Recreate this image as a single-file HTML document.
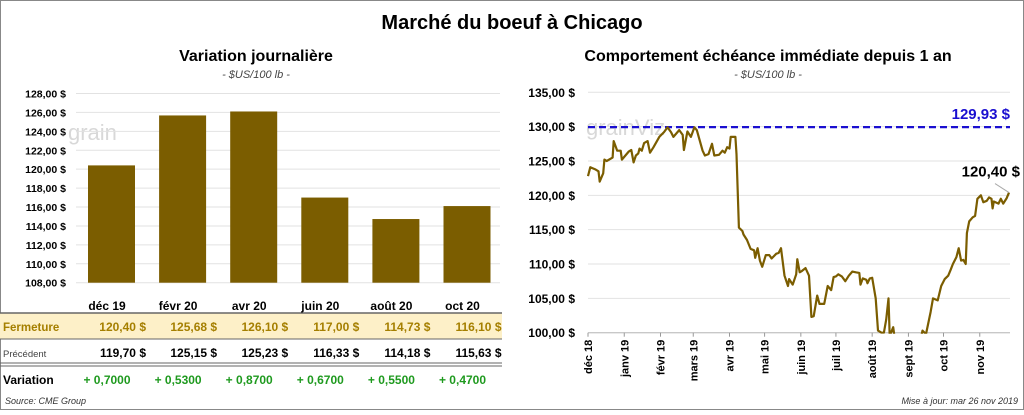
<!DOCTYPE html>
<html><head><meta charset="utf-8"><style>
body{margin:0;background:#fff;font-family:"Liberation Sans",sans-serif}
svg text{font-family:"Liberation Sans",sans-serif}
</style></head><body>
<svg width="1024" height="410" viewBox="0 0 1024 410" xmlns="http://www.w3.org/2000/svg">
<rect x="0.5" y="0.5" width="1023" height="409" fill="#fff" stroke="#888"/>
<text x="512" y="29" text-anchor="middle" font-size="20" font-weight="bold">Marché du boeuf à Chicago</text>
<text x="256" y="61" text-anchor="middle" font-size="16" font-weight="bold">Variation journalière</text>
<text x="256" y="78" text-anchor="middle" font-size="11" font-style="italic" fill="#444">- $US/100 lb -</text>
<text x="768" y="61" text-anchor="middle" font-size="16" font-weight="bold">Comportement échéance immédiate depuis 1 an</text>
<text x="768" y="78" text-anchor="middle" font-size="11" font-style="italic" fill="#444">- $US/100 lb -</text>
<g id="left"></g>
<g id="right"></g>
<text x="5" y="404" font-size="9" font-style="italic" fill="#333">Source: CME Group</text>
<text x="1018" y="404" text-anchor="end" font-size="9" font-style="italic" fill="#333">Mise à jour: mar 26 nov 2019</text>
</svg>
<script>
const barCats=["déc 19","févr 20","avr 20","juin 20","août 20","oct 20"];
const closeVals=[120.40,125.68,126.10,117.00,114.73,116.10];
const prevVals=[119.70,125.15,125.23,116.33,114.18,115.63];
const barTicks=[108,110,112,114,116,118,120,122,124,126,128];
const lineDays=[0,2,6,9,10,13,14,16,21,22,25,28,29,32,35,37,39,41,43,44,46,48,51,53,56,61,65,68,71,73,78,81,82,85,88,91,93,98,100,103,106,108,112,115,117,119,121,122,126,127,129,132,133,136,139,142,143,145,147,149,152,155,157,161,163,165,168,171,172,175,178,179,181,183,186,189,191,193,196,198,202,205,208,210,212,214,217,220,223,226,229,232,233,235,238,239,241,243,246,248,251,253,255,257,258,261,262,263,274,283,285,286,289,291,293,295,299,302,305,308,310,312,315,317,319,321,323,324,326,329,331,332,333,336,338,341,343,345,346,347,351,353,355,358,360];
const lineVals=[122.8,124.1,123.8,123.5,122.0,123.2,125.2,125.0,125.5,127.9,126.5,126.5,125.2,125.8,126.4,126.6,124.8,125.8,126.1,126.8,126.5,127.6,127.9,126.2,127.0,128.5,129.2,129.9,129.2,128.5,129.5,128.8,126.6,129.3,128.5,129.9,129.5,126.5,125.8,126.0,127.5,125.8,125.9,126.5,126.2,127.0,126.8,128.5,128.5,126.0,115.3,114.8,114.3,113.5,112.2,112.0,110.9,112.3,110.5,109.6,111.3,111.3,110.8,111.5,111.6,112.3,108.3,106.8,107.8,107.0,108.5,110.7,108.8,109.0,109.4,108.3,102.3,102.4,105.4,104.2,104.2,106.8,106.2,108.1,108.2,108.5,108.2,107.5,108.3,108.9,108.8,108.7,107.0,107.9,107.7,107.2,107.9,108.0,105.0,100.3,100.0,100.0,101.9,105.0,99.5,100.8,99.5,97,96,97,99.5,100.3,99.8,101.4,103.0,105.0,104.7,106.8,107.8,108.3,109.1,110.0,111.0,112.3,110.5,110.6,110.0,114.5,116.2,116.8,117.0,118.3,119.5,120.0,119.0,119.2,119.7,119.5,118.1,119.1,118.8,119.5,118.8,119.6,120.4];
const lineTicks=[100,105,110,115,120,125,130,135];
const monthLabels=["déc 18","janv 19","févr 19","mars 19","avr 19","mai 19","juin 19","juil 19","août 19","sept 19","oct 19","nov 19"];
const monthDays=[0,31,62,90,121,151,182,212,243,274,304,335];
const highVal=129.93;
const NS="http://www.w3.org/2000/svg";
function mk(p,t,a,txt){const e=document.createElementNS(NS,t);for(const k in a)e.setAttribute(k,a[k]);if(txt!=null)e.textContent=txt;p.appendChild(e);return e;}
const fmt=(v,d)=>v.toFixed(d).replace('.',',');
// left
const L=document.getElementById('left');
const ly=v=>282.7-(v-108)*(189.2/20);
const bx=i=>112+i*71.1;
mk(L,'text',{x:68,y:140,'font-size':22,fill:'#d8d8d8'},'grain');
barTicks.forEach(t=>{
 const g=mk(L,'line',{x1:76,x2:500,y1:ly(t),y2:ly(t),stroke:'#e2e2e2'});
 
 const l=mk(L,'text',{x:66,y:ly(t)+4,'text-anchor':'end','font-size':10.5,'font-weight':'bold'},fmt(t,2)+' $');
 
});
mk(L,'rect',{x:0,y:313,width:502,height:26,fill:'#fdf0c8'});
mk(L,'line',{x1:0,x2:502,y1:313,y2:313,stroke:'#666',"stroke-width":1.5});
mk(L,'line',{x1:0,x2:502,y1:339,y2:339,stroke:'#666',"stroke-width":1});
mk(L,'line',{x1:0,x2:502,y1:363,y2:363,stroke:'#666',"stroke-width":1});
mk(L,'line',{x1:0,x2:502,y1:366,y2:366,stroke:'#666',"stroke-width":1});
let t1=mk(L,'text',{x:3,y:331,'font-size':11.5,'font-weight':'bold',fill:'#a57f00'},'Fermeture');

let t2=mk(L,'text',{x:3,y:357,'font-size':9.5,fill:'#444'},'Précédent');

let t3=mk(L,'text',{x:3,y:384,'font-size':12,'font-weight':'bold'},'Variation');

closeVals.forEach((v,i)=>{
 const b=mk(L,'rect',{x:bx(i)-24,y:ly(v),width:47,height:ly(108)-ly(v),fill:'#7b5d00'});
 
 const c=mk(L,'text',{x:bx(i)-5,y:310,'text-anchor':'middle','font-size':12,'font-weight':'bold'},barCats[i]);
 
 const f=mk(L,'text',{x:bx(i)+34,y:331,'text-anchor':'end','font-size':12,'font-weight':'bold',fill:'#a57f00','xml:space':'preserve'},fmt(v,2)+'  $');
 
 const p=mk(L,'text',{x:bx(i)+34,y:357,'text-anchor':'end','font-size':12,'font-weight':'bold','xml:space':'preserve'},fmt(prevVals[i],2)+'  $');
 
 const d=v-prevVals[i];
 const vv=mk(L,'text',{x:bx(i)-5,y:384,'text-anchor':'middle','font-size':12,'font-weight':'bold',fill:'#1f9a1f'},(d>=0?'+ ':'- ')+fmt(Math.abs(d),4));
 
});
// right
const R=document.getElementById('right');
const ry=v=>332.7-(v-100)*(240.4/35);
const rx=d=>588+d*(421/360);
mk(R,'text',{x:586,y:135,'font-size':22,fill:'#d8d8d8'},'grainViz');
lineTicks.forEach(t=>{
 const g=mk(R,'line',{x1:588,x2:1010,y1:ry(t),y2:ry(t),stroke:'#e2e2e2'});
 
 const l=mk(R,'text',{x:575,y:ry(t)+4.5,'text-anchor':'end','font-size':12,'font-weight':'bold'},fmt(t,2)+' $');
 
});
mk(R,'line',{x1:588,x2:1010,y1:ry(100),y2:ry(100),stroke:'#bbb'});
monthDays.forEach((d,i)=>{
 mk(R,'line',{x1:rx(d),x2:rx(d),y1:ry(100),y2:ry(100)+4,stroke:'#999'});
 const l=mk(R,'text',{transform:`translate(${rx(d)+4},${ry(100)+7}) rotate(-90)`,'text-anchor':'end','font-size':11,'font-weight':'bold'},monthLabels[i]);
 
});
const cp=mk(R,'clipPath',{id:'clip'});mk(cp,'rect',{x:580,y:80,width:440,height:ry(100)-80+1});
const hl=mk(R,'line',{x1:588,x2:1010,y1:ry(highVal),y2:ry(highVal),stroke:'#1a0fd0','stroke-width':2.2,'stroke-dasharray':'7,4'});

const hlab=mk(R,'text',{x:1010,y:ry(highVal)-8,'text-anchor':'end','font-size':15,'font-weight':'bold',fill:'#1a0fd0'},fmt(highVal,2)+' $');

const pts=lineDays.map((d,i)=>rx(d).toFixed(1)+','+ry(lineVals[i]).toFixed(1)).join(' ');
const pl=mk(R,'polyline',{points:pts,fill:'none',stroke:'#7b5d00','stroke-width':2.2,'clip-path':'url(#clip)','stroke-linejoin':'round'});

const lastV=lineVals[lineVals.length-1],lastX=rx(lineDays[lineDays.length-1]);
mk(R,'line',{x1:lastX,y1:ry(lastV),x2:lastX-14,y2:ry(lastV)-9,stroke:'#aaa'});
const ll=mk(R,'text',{x:1020,y:ry(lastV)-16,'text-anchor':'end','font-size':15,'font-weight':'bold'},fmt(lastV,2)+' $');

</script>
</body></html>
